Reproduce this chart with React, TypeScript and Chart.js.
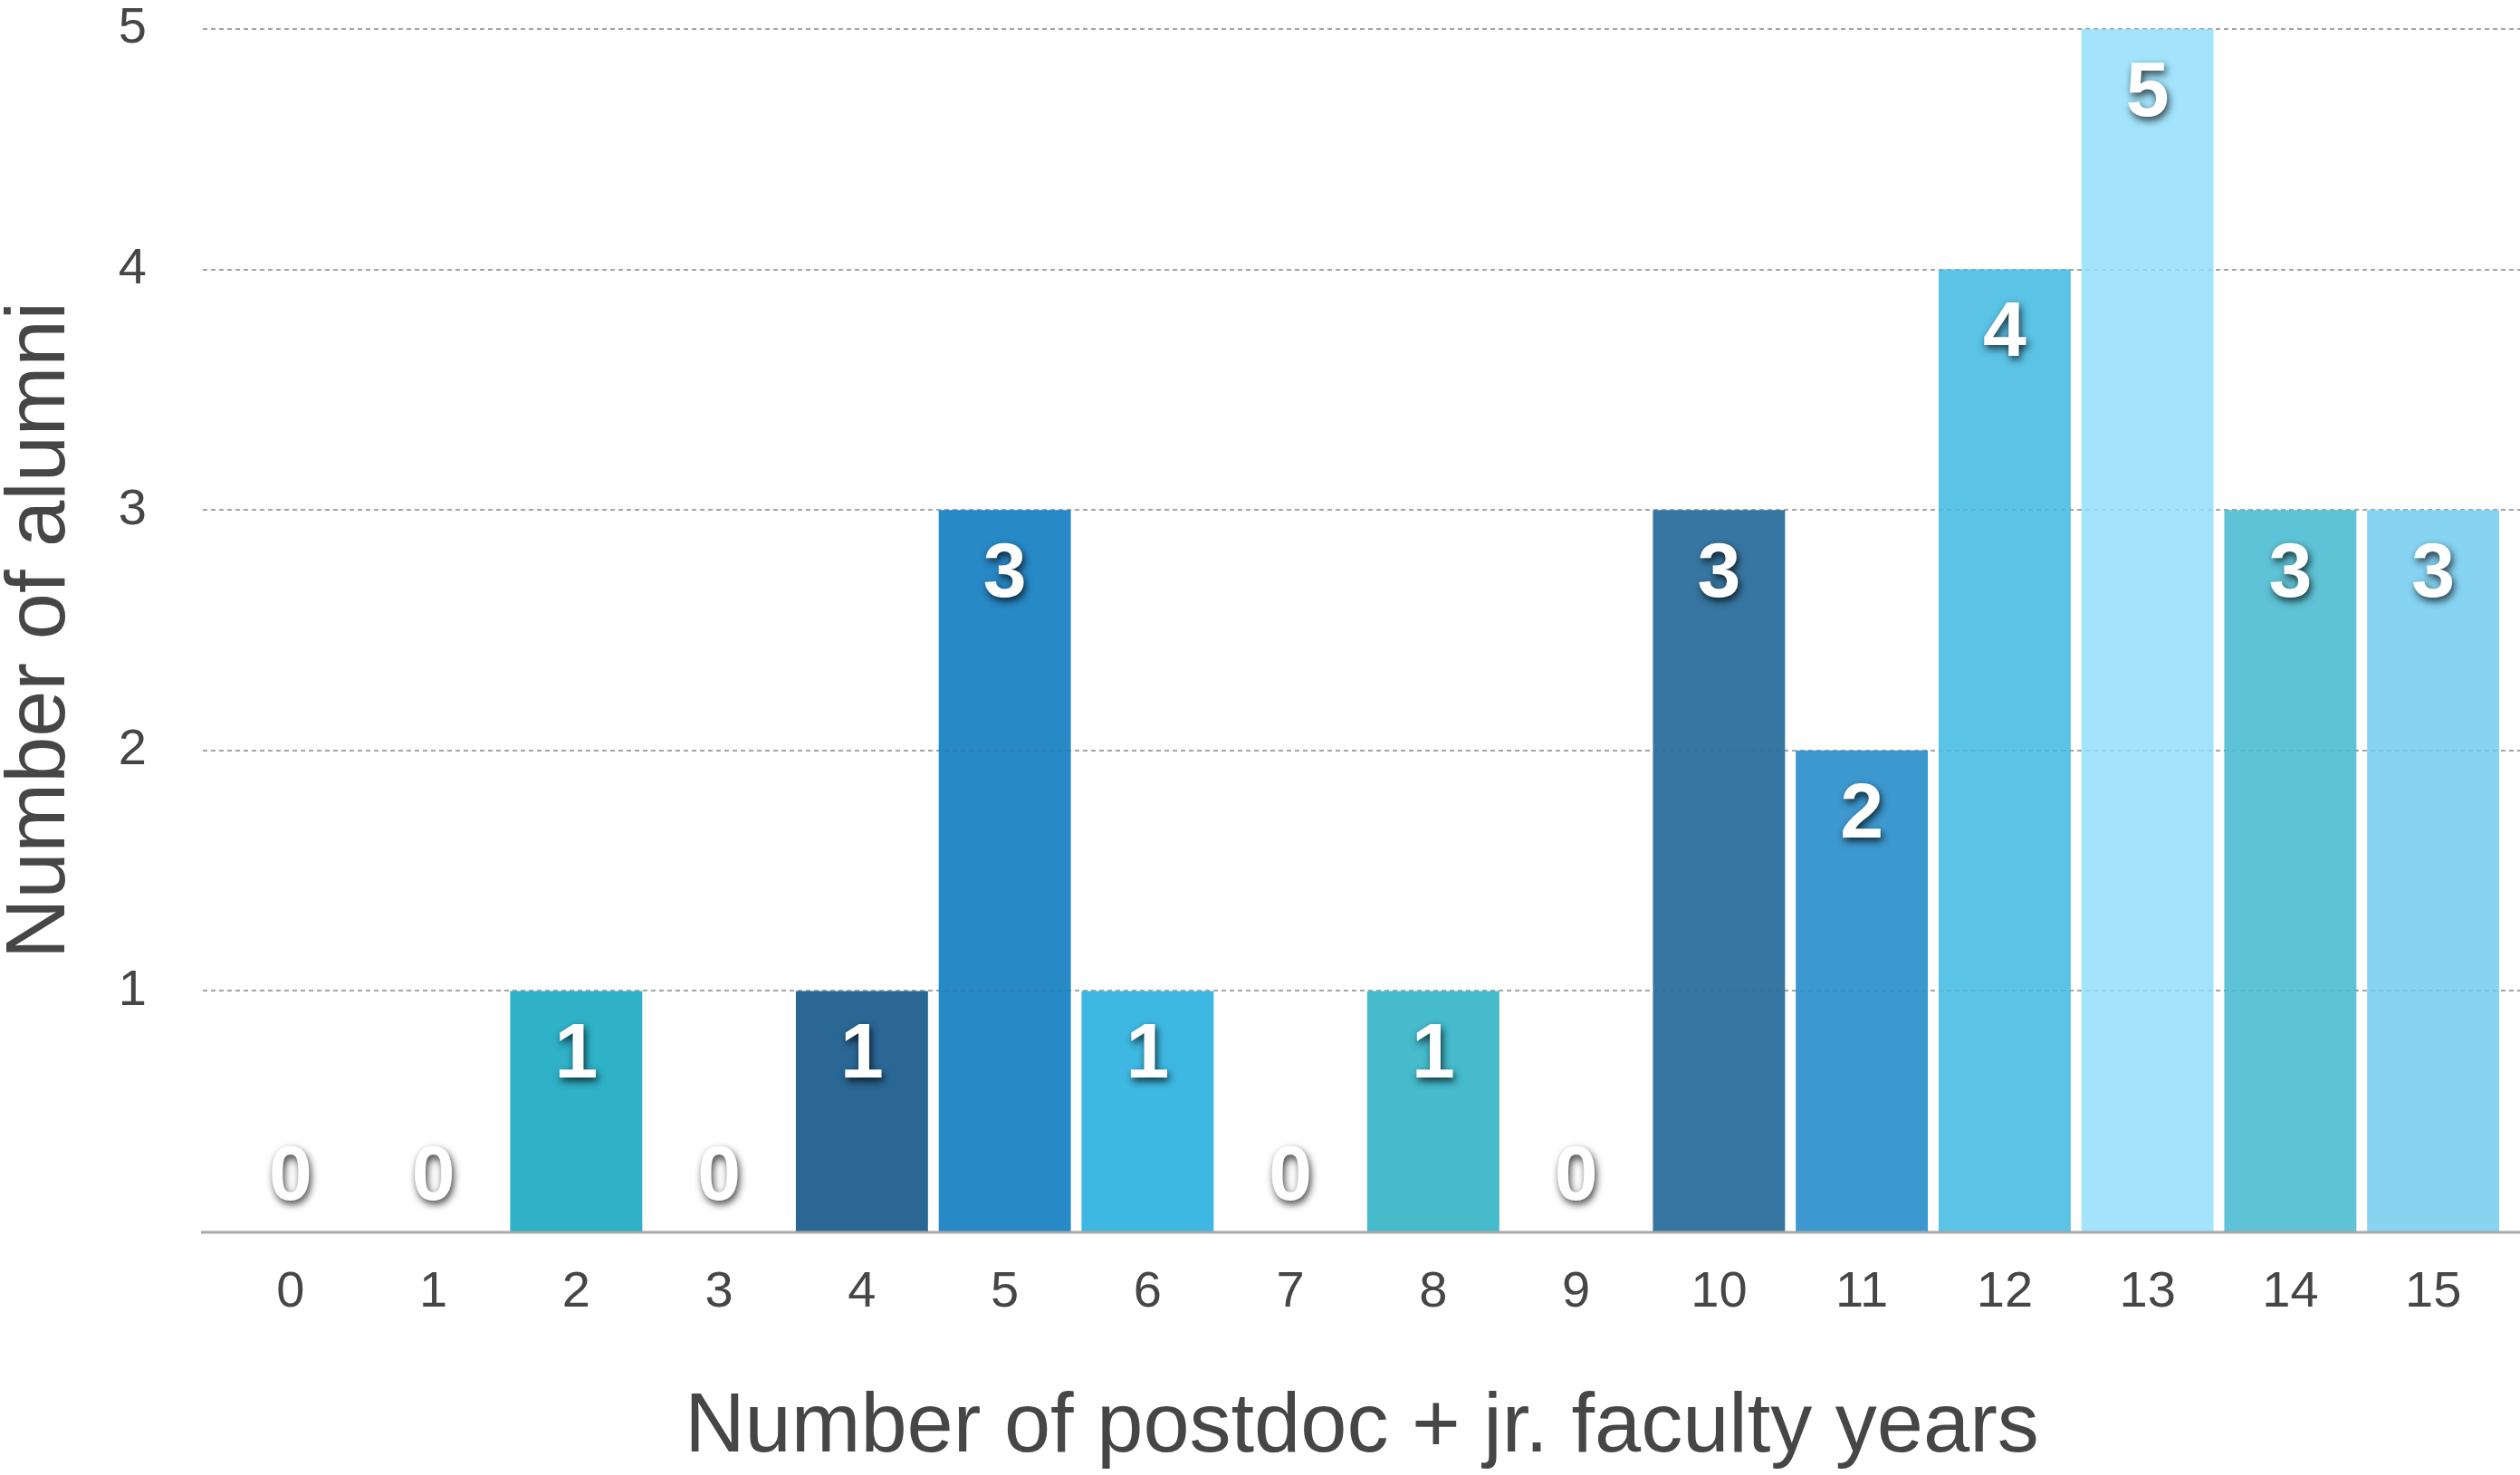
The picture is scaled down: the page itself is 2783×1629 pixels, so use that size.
import React, { useEffect, useRef } from "react";
import { Chart, registerables } from "chart.js";

Chart.register(...registerables);

const categories = ["0", "1", "2", "3", "4", "5", "6", "7", "8", "9", "10", "11", "12", "13", "14", "15"];
const alumni = [0, 0, 1, 0, 1, 3, 1, 0, 1, 0, 3, 2, 4, 5, 3, 3];
const barColors = [
  "#2FB1C8", "#2FB1C8", "#2FB1C8", "#2FB1C8", "#2A6795", "#2889C7", "#3EB8E2", "#3EB8E2",
  "#45BBCC", "#45BBCC", "#3776A2", "#3D98D0", "#5BC3E6", "#A3E4FC", "#5EC3D6", "#86D3F2",
];
const yGridValues = [1, 2, 3, 4, 5];
const xTitle = "Number of postdoc + jr. faculty years";
const yTitle = "Number of alumni";

const FONT = "'Liberation Sans', Arial, Helvetica, sans-serif";
const TEXT_COLOR = "#464646";

const gridPlugin = {
  id: "customGrid",
  beforeDatasetsDraw(chart: any) {
    const { ctx, scales } = chart;
    const y = scales.y;
    const w = chart.width;
    ctx.save();
    ctx.strokeStyle = "#b2b2b2";
    ctx.lineWidth = 2;
    ctx.setLineDash([5, 4]);
    yGridValues.forEach((v) => {
      const py = Math.round(y.getPixelForValue(v));
      ctx.beginPath();
      ctx.moveTo(224, py);
      ctx.lineTo(w, py);
      ctx.stroke();
    });
    ctx.restore();
  },
  afterDatasetsDraw(chart: any) {
    const { ctx, scales } = chart;
    const y = scales.y;
    const w = chart.width;
    ctx.save();
    // faint grid over bars
    ctx.strokeStyle = "rgba(60,60,60,0.10)";
    ctx.lineWidth = 2;
    ctx.setLineDash([5, 4]);
    yGridValues.forEach((v) => {
      const py = Math.round(y.getPixelForValue(v));
      ctx.beginPath();
      ctx.moveTo(224, py);
      ctx.lineTo(w, py);
      ctx.stroke();
    });
    // baseline
    ctx.setLineDash([]);
    ctx.strokeStyle = "#a8a8a8";
    ctx.lineWidth = 3;
    const by = y.getPixelForValue(0) + 1;
    ctx.beginPath();
    ctx.moveTo(222, by);
    ctx.lineTo(w, by);
    ctx.stroke();

    // value labels
    const meta = chart.getDatasetMeta(0);
    ctx.font = `bold 86px ${FONT}`;
    ctx.textAlign = "center";
    ctx.textBaseline = "middle";
    ctx.fillStyle = "#ffffff";
    ctx.shadowColor = "rgba(0,0,0,0.75)";
    ctx.shadowBlur = 8;
    ctx.shadowOffsetX = 2;
    ctx.shadowOffsetY = 4;
    const base = y.getPixelForValue(0);
    meta.data.forEach((bar: any, i: number) => {
      const v = alumni[i];
      const cy = v > 0 ? bar.y + 72 : base - 59;
      ctx.fillText(String(v), bar.x, cy);
    });
    ctx.restore();
  },
};

export default function App() {
  const canvasRef = useRef<HTMLCanvasElement | null>(null);

  useEffect(() => {
    const canvas = canvasRef.current;
    if (!canvas) return;
    const chart = new Chart(canvas, {
      type: "bar",
      data: {
        labels: categories,
        datasets: [
          {
            data: alumni,
            backgroundColor: barColors,
            borderWidth: 0,
            barPercentage: 0.925,
            categoryPercentage: 1,
          },
        ],
      },
      options: {
        responsive: false,
        animation: false,
        devicePixelRatio: 1,
        layout: { padding: { top: 32, right: 17, bottom: 5, left: 0 } },
        plugins: {
          legend: { display: false },
          tooltip: { enabled: false },
        },
        scales: {
          x: {
            grid: { display: false, drawTicks: false },
            border: { display: false },
            ticks: {
              color: TEXT_COLOR,
              font: { family: FONT, size: 56, lineHeight: 1.2 },
              padding: 34,
              maxRotation: 0,
              autoSkip: false,
            },
            title: {
              display: true,
              text: xTitle,
              color: TEXT_COLOR,
              font: { family: FONT, size: 92, lineHeight: 1 },
              padding: { top: 0, bottom: 0 },
            },
            afterFit: (s: any) => {
              s.height = 264;
              s.paddingLeft = 0;
              s.paddingRight = 0;
            },
          },
          y: {
            min: 0,
            max: 5,
            grid: { display: false, drawTicks: false },
            border: { display: false },
            ticks: {
              stepSize: 1,
              color: TEXT_COLOR,
              font: { family: FONT, size: 56, lineHeight: 1.1 },
              padding: 80,
              callback: (v: any) => (v === 0 ? "" : String(v)),
            },
            title: {
              display: true,
              text: yTitle,
              color: TEXT_COLOR,
              font: { family: FONT, size: 92, lineHeight: 1 },
              padding: { top: 0, bottom: 0 },
            },
            afterFit: (s: any) => {
              s.width = 242;
              s.paddingTop = 0;
              s.paddingBottom = 0;
            },
          },
        },
      },
      plugins: [gridPlugin],
    });
    return () => chart.destroy();
  }, []);

  return (
    <div style={{ position: "absolute", left: 0, top: 0, width: 2783, height: 1629, background: "#fff" }}>
      <canvas ref={canvasRef} width={2783} height={1629} style={{ width: 2783, height: 1629, display: "block" }} />
    </div>
  );
}
